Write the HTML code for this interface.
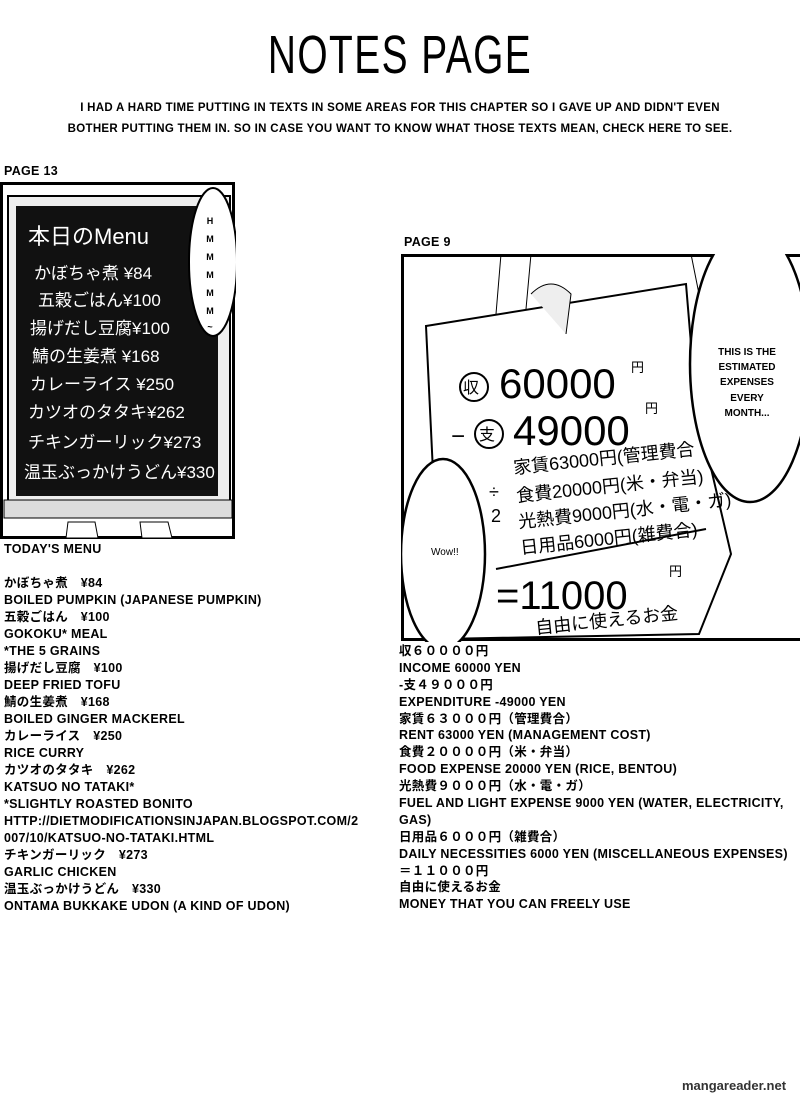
<!DOCTYPE html>
<html><head><meta charset="utf-8"><style>
body{margin:0;width:800px;height:1100px;background:#fff;position:relative;overflow:hidden;font-family:"Liberation Sans","Noto Sans CJK JP",sans-serif;color:#000}
.a{position:absolute;white-space:nowrap}
.t{font-weight:bold;text-transform:uppercase;font-size:12.5px;letter-spacing:0.3px}
.list div{height:17px;line-height:17px}
.list2 div{height:16.9px;line-height:16.9px}
</style></head><body>
<div class="a" style="left:0;width:800px;top:24px;text-align:center;font-size:54px;letter-spacing:2px;transform:scaleX(0.72)">NOTES PAGE</div>
<div class="a t" style="left:0;width:800px;top:98px;text-align:center;line-height:21px;font-size:11.5px">I had a hard time putting in texts in some areas for this chapter so I gave up and didn't even<br>bother putting them in. So in case you want to know what those texts mean, check here to see.</div>
<div class="a t" style="left:4px;top:164px">Page 13</div>
<div class="a t" style="left:404px;top:235px">Page 9</div>

<svg class="a" style="left:0;top:182px" width="236" height="358">
<rect x="1.5" y="1.5" width="232" height="354" fill="#fff" stroke="#000" stroke-width="3"/>
<rect x="8" y="14" width="222" height="310" fill="#eee" stroke="#000" stroke-width="2"/>
<rect x="16" y="24" width="202" height="290" fill="#111"/>
<rect x="4" y="318" width="228" height="18" fill="#ddd" stroke="#000"/>
<polygon points="68,340 95,340 98,356 66,356" fill="#fff" stroke="#000"/>
<polygon points="140,340 168,340 172,356 142,356" fill="#fff" stroke="#000"/>
<g fill="#fff" font-family="Liberation Sans,Noto Sans CJK JP,sans-serif" font-size="17">
<text x="28" y="62" font-size="22">本日のMenu</text>
<text x="34" y="97">かぼちゃ煮 ¥84</text>
<text x="38" y="124">五穀ごはん¥100</text>
<text x="30" y="152">揚げだし豆腐¥100</text>
<text x="32" y="180">鯖の生姜煮 ¥168</text>
<text x="30" y="208">カレーライス ¥250</text>
<text x="28" y="236">カツオのタタキ¥262</text>
<text x="28" y="266">チキンガーリック¥273</text>
<text x="24" y="296">温玉ぶっかけうどん¥330</text>
</g>
<ellipse cx="213" cy="80" rx="24" ry="74" fill="#fff" stroke="#000" stroke-width="2"/>
<g font-size="9" font-weight="bold" text-anchor="middle" font-family="Liberation Sans">
<text x="210" y="42">H</text><text x="210" y="60">M</text><text x="210" y="78">M</text><text x="210" y="96">M</text><text x="210" y="114">M</text><text x="210" y="132">M</text><text x="210" y="148">~</text>
</g>
</svg>

<svg class="a" style="left:401px;top:254px" width="399" height="388">
<rect x="1.5" y="1.5" width="400" height="384" fill="#fff" stroke="#000" stroke-width="3"/>
<path d="M100,0 L95,60 M130,0 L125,55 M290,0 L300,50 M320,0 L330,60" stroke="#000" fill="none"/>
<path d="M25,72 L285,30 L295,150 L330,300 L298,380 L40,385 Z" fill="#fff" stroke="#000" stroke-width="2"/>
<path d="M130,40 Q150,20 170,40 L165,80" fill="#eee" stroke="#000"/>
<g font-family="Liberation Sans,Noto Sans CJK JP,sans-serif">
<circle cx="73" cy="133" r="14" fill="none" stroke="#000" stroke-width="2"/>
<text x="62" y="139" font-size="16">収</text>
<text x="98" y="144" font-size="42">60000</text><text x="230" y="118" font-size="13">円</text>
<text x="50" y="190" font-size="24">−</text>
<circle cx="88" cy="180" r="14" fill="none" stroke="#000" stroke-width="2"/>
<text x="78" y="186" font-size="16">支</text>
<text x="112" y="191" font-size="42">49000</text><text x="244" y="159" font-size="13">円</text>
<text x="113" y="220" font-size="18" transform="rotate(-6 113 220)">家賃63000円(管理費合</text>
<text x="116" y="248" font-size="18" transform="rotate(-6 116 248)">食費20000円(米・弁当)</text>
<text x="118" y="274" font-size="18" transform="rotate(-6 118 274)">光熱費9000円(水・電・ガ)</text>
<text x="120" y="300" font-size="18" transform="rotate(-6 120 300)">日用品6000円(雑費合)</text>
<text x="88" y="244" font-size="18">÷</text><text x="90" y="268" font-size="18">2</text>
<path d="M95,315 L305,275" stroke="#000" stroke-width="2"/>
<text x="95" y="355" font-size="40">=11000</text><text x="268" y="322" font-size="13">円</text>
<text x="135" y="380" font-size="18" transform="rotate(-6 135 380)">自由に使えるお金</text>
</g>
<ellipse cx="349" cy="110" rx="60" ry="138" fill="#fff" stroke="#000" stroke-width="2.5"/>
<g font-family="Liberation Sans" font-size="10" font-weight="bold" text-anchor="middle">
<text x="346" y="101">THIS IS THE</text><text x="346" y="116">ESTIMATED</text><text x="346" y="131">EXPENSES</text><text x="346" y="147">EVERY</text><text x="346" y="162">MONTH...</text>
</g>
<ellipse cx="42" cy="300" rx="42" ry="95" fill="#fff" stroke="#000" stroke-width="2.5"/>
<text x="30" y="301" font-family="Liberation Sans" font-size="10">Wow!!</text>
</svg>

<div class="a t list" style="left:4px;top:541px">
<div>Today's Menu</div><div></div>
<div>かぼちゃ煮　¥84</div>
<div>Boiled pumpkin (Japanese pumpkin)</div>
<div>五穀ごはん　¥100</div>
<div>Gokoku* meal</div>
<div>*The 5 grains</div>
<div>揚げだし豆腐　¥100</div>
<div>Deep fried tofu</div>
<div>鯖の生姜煮　¥168</div>
<div>Boiled ginger mackerel</div>
<div>カレーライス　¥250</div>
<div>Rice Curry</div>
<div>カツオのタタキ　¥262</div>
<div>Katsuo no tataki*</div>
<div>*Slightly roasted bonito</div>
<div>http://dietmodificationsinjapan.blogspot.com/2</div>
<div>007/10/katsuo-no-tataki.html</div>
<div>チキンガーリック　¥273</div>
<div>Garlic chicken</div>
<div>温玉ぶっかけうどん　¥330</div>
<div>Ontama bukkake udon (a kind of udon)</div>
</div>

<div class="a t list2" style="left:399px;top:643px">
<div>収６００００円</div>
<div>Income 60000 yen</div>
<div>-支４９０００円</div>
<div>Expenditure -49000 yen</div>
<div>家賃６３０００円（管理費合）</div>
<div>Rent 63000 yen (management cost)</div>
<div>食費２００００円（米・弁当）</div>
<div>Food expense 20000 yen (rice, bentou)</div>
<div>光熱費９０００円（水・電・ガ）</div>
<div>Fuel and light expense 9000 yen (water, electricity,</div>
<div>gas)</div>
<div>日用品６０００円（雑費合）</div>
<div>Daily necessities 6000 yen (miscellaneous expenses)</div>
<div>＝１１０００円</div>
<div>自由に使えるお金</div>
<div>Money that you can freely use</div>
</div>

<div class="a" style="left:682px;top:1078px;font-size:13px;font-weight:bold;color:#333">mangareader.net</div>
</body></html>
